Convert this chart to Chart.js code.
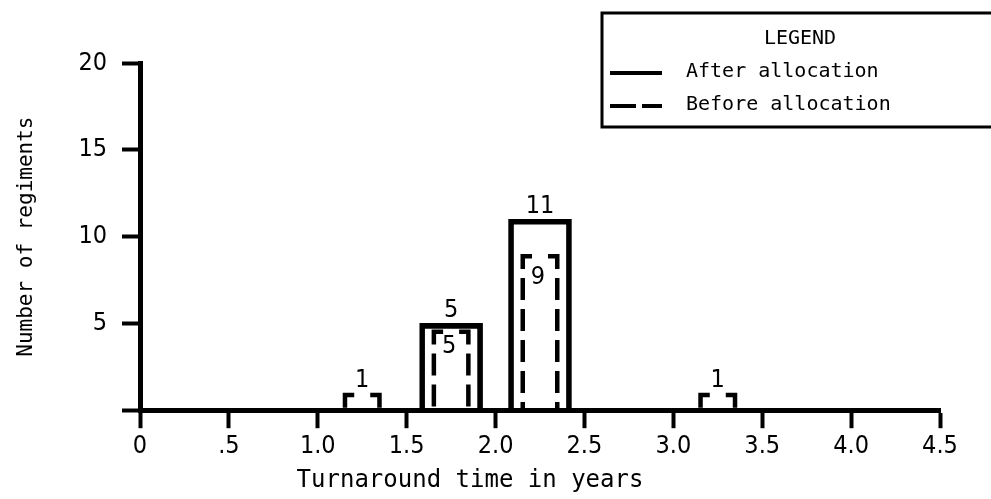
<!DOCTYPE html>
<html><head><meta charset="utf-8">
<script src="https://cdn.jsdelivr.net/npm/chart.js@4/dist/chart.umd.min.js"></script>
<style>html,body{margin:0;padding:0;background:#fff;} canvas{display:block;}</style>
</head><body>
<canvas id="c" width="991" height="499"></canvas>
<script>
// ---- data ----
const seriesNames = ['After allocation', 'Before allocation'];
const afterBins = [1.75, 2.25];          // bin centres (years)
const afterCounts = [5, 11];
const beforeBins = [1.25, 1.75, 2.25, 3.25];
const beforeCounts = [1, 5, 9, 1];
const xTickValues = [0, 0.5, 1, 1.5, 2, 2.5, 3, 3.5, 4, 4.5];
const xTickLabels = ['0', '.5', '1.0', '1.5', '2.0', '2.5', '3.0', '3.5', '4.0', '4.5'];
const yTickValues = [0, 5, 10, 15, 20];
const yTickLabels = ['', '5', '10', '15', '20'];
const xTitle = 'Turnaround time in years';
const yTitle = 'Number of regiments';
const legendTitle = 'LEGEND';

const MONO = "'DejaVu Sans Mono', monospace";

function fontAvailable(name) {
  const c = document.createElement('canvas').getContext('2d');
  const s = 'mmmmmmmmmmlli0123456789.';
  for (const fb of ['monospace', 'serif', 'sans-serif']) {
    c.font = '40px ' + fb; const a = c.measureText(s).width;
    c.font = '40px "' + name + '", ' + fb; const b = c.measureText(s).width;
    if (Math.abs(a - b) > 0.01) return true;
  }
  return false;
}
let NUM = MONO, NUMSIZE = 22;
if (fontAvailable('DejaVu Sans Condensed')) { NUM = '"DejaVu Sans Condensed", ' + MONO; NUMSIZE = 25; }
else if (fontAvailable('Liberation Sans Narrow')) { NUM = '"Liberation Sans Narrow", ' + MONO; NUMSIZE = 26; }

const dashedBars = {
  id: 'dashedBars',
  afterDatasetsDraw(chart) {
    const ctx = chart.ctx;
    const solidTops = [];
    chart.data.datasets.forEach((ds, di) => {
      if (ds.dashed) return;
      chart.getDatasetMeta(di).data.forEach(el => {
        solidTops.push(el.getProps(['x', 'y'], true));
      });
    });
    chart.data.datasets.forEach((ds, di) => {
      if (!ds.dashed) return;
      const meta = chart.getDatasetMeta(di);
      ctx.save();
      ctx.strokeStyle = '#000';
      ctx.lineWidth = 4.5;
      ctx.setLineDash([22, 9]);
      ctx.lineDashOffset = 23;
      ctx.lineCap = 'butt';
      meta.data.forEach(el => {
        const p = el.getProps(['x', 'y', 'base', 'width'], true);
        let t = p.y + 2.25;
        if (solidTops.some(s => Math.abs(s.x - p.x) < 2 && Math.abs(s.y - p.y) < 6)) t += 6;
        const l = p.x - p.width / 2 + 2.25, r = p.x + p.width / 2 - 2.25;
        ctx.beginPath();
        ctx.moveTo(p.x, t); ctx.lineTo(l, t); ctx.lineTo(l, p.base);
        ctx.stroke();
        ctx.beginPath();
        ctx.moveTo(p.x, t); ctx.lineTo(r, t); ctx.lineTo(r, p.base);
        ctx.stroke();
      });
      ctx.restore();
    });
  }
};

const valueLabels = {
  id: 'valueLabels',
  afterDatasetsDraw(chart) {
    const ctx = chart.ctx;
    ctx.save();
    ctx.fillStyle = '#000';
    ctx.font = NUMSIZE + "px " + NUM;
    ctx.textAlign = 'center';
    chart.data.datasets.forEach((ds, di) => {
      const meta = chart.getDatasetMeta(di);
      meta.data.forEach((el, i) => {
        const v = ds.data[i].y;
        const p = el.getProps(['x', 'y'], true);
        ctx.textBaseline = 'alphabetic';
        if (ds.dashed && v >= 5) {
          ctx.fillText(String(v), p.x - 2, p.y + 30);
        } else {
          ctx.fillText(String(v), p.x, p.y - 6);
        }
      });
    });
    ctx.restore();
  }
};

const legendBox = {
  id: 'legendBox',
  afterDraw(chart) {
    const ctx = chart.ctx;
    ctx.save();
    ctx.strokeStyle = '#000';
    ctx.lineWidth = 3;
    ctx.strokeRect(602, 13, 420, 114);
    ctx.fillStyle = '#000';
    ctx.font = "20px " + MONO;
    ctx.textBaseline = 'middle';
    ctx.textAlign = 'center';
    ctx.fillText(legendTitle, 800, 39);
    ctx.textAlign = 'left';
    ctx.fillText(seriesNames[0], 686, 72);
    ctx.fillText(seriesNames[1], 686, 105);
    ctx.lineWidth = 4;
    ctx.beginPath(); ctx.moveTo(610, 73); ctx.lineTo(662, 73); ctx.stroke();
    ctx.setLineDash([26, 6]);
    ctx.beginPath(); ctx.moveTo(610, 106); ctx.lineTo(662, 106); ctx.stroke();
    ctx.restore();
  }
};

new Chart(document.getElementById('c'), {
  type: 'bar',
  data: {
    datasets: [
      {
        label: seriesNames[0],
        data: afterBins.map((x, i) => ({ x, y: afterCounts[i] })),
        backgroundColor: 'rgba(0,0,0,0)',
        borderColor: '#000',
        borderWidth: 5,
        borderSkipped: 'start',
        barThickness: 63,
        grouped: false
      },
      {
        label: seriesNames[1],
        data: beforeBins.map((x, i) => ({ x, y: beforeCounts[i] })),
        backgroundColor: 'rgba(0,0,0,0)',
        borderColor: '#000',
        borderWidth: 0,
        barThickness: 39,
        grouped: false,
        dashed: true
      }
    ]
  },
  options: {
    responsive: false,
    animation: false,
    events: [],
    layout: { padding: { top: 63, right: 51, left: 0, bottom: 0 } },
    plugins: {
      legend: { display: false },
      tooltip: { enabled: false },
      title: {
        display: true,
        position: 'bottom',
        text: xTitle,
        color: '#000',
        font: { family: MONO, size: 24, weight: 'normal', lineHeight: 1.2 },
        padding: { top: 2, bottom: 4 }
      }
    },
    scales: {
      x: {
        type: 'linear',
        min: 0, max: 4.5,
        offset: false,
        afterBuildTicks: s => { s.ticks = xTickValues.map(v => ({ value: v })); },
        afterFit: s => { s.height = 54; },
        grid: { display: true, offset: false, drawOnChartArea: false, drawTicks: true, tickLength: 18, tickWidth: 4, tickColor: '#000' },
        border: { display: true, color: '#000', width: 5 },
        ticks: {
          color: '#000', padding: 3, maxRotation: 0, autoSkip: false,
          font: { family: NUM, size: NUMSIZE },
          callback: (v, i) => xTickLabels[i]
        }
      },
      y: {
        min: 0, max: 20,
        afterBuildTicks: s => { s.ticks = yTickValues.map(v => ({ value: v })); },
        afterFit: s => { s.width = 140; },
        grid: { display: true, drawOnChartArea: false, drawTicks: true, tickLength: 18, tickWidth: 4, tickColor: '#000' },
        border: { display: true, color: '#000', width: 5 },
        ticks: {
          color: '#000', padding: 15,
          font: { family: NUM, size: NUMSIZE },
          callback: (v, i) => yTickLabels[i]
        },
        title: {
          display: true,
          text: yTitle,
          color: '#000',
          font: { family: MONO, size: 21 },
          padding: { top: 14, bottom: 0 }
        }
      }
    }
  },
  plugins: [dashedBars, valueLabels, legendBox]
});
</script>
</body></html>
